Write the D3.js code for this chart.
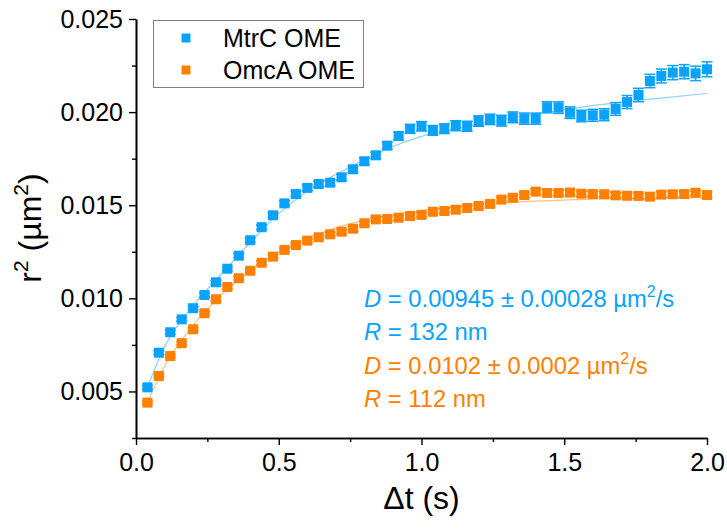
<!DOCTYPE html>
<html>
<head>
<meta charset="utf-8">
<script src="https://cdn.jsdelivr.net/npm/d3@7"></script>
<style>
  html, body { margin: 0; padding: 0; background: #fff; }
  svg { display: block; font-family: "Liberation Sans", Arial, sans-serif; }
</style>
</head>
<body>
<svg id="chart" width="727" height="529"></svg>
<script>
// Lag times (s)
const lagTimes = [0.04,0.08,0.12,0.16,0.20,0.24,0.28,0.32,0.36,0.40,
                  0.44,0.48,0.52,0.56,0.60,0.64,0.68,0.72,0.76,0.80,
                  0.84,0.88,0.92,0.96,1.00,1.04,1.08,1.12,1.16,1.20,
                  1.24,1.28,1.32,1.36,1.40,1.44,1.48,1.52,1.56,1.60,
                  1.64,1.68,1.72,1.76,1.80,1.84,1.88,1.92,1.96,2.00];

// Mean squared displacement, MtrC OME (µm²)
const mtrcMsd = [0.00522,0.00708,0.00818,0.00887,0.00947,0.01018,0.01086,0.01159,0.01229,0.01312,
                 0.01382,0.01446,0.01510,0.01560,0.01593,0.01614,0.01621,0.01650,0.01693,0.01736,
                 0.01768,0.01820,0.01872,0.01910,0.01924,0.01902,0.01911,0.01927,0.01924,0.01952,
                 0.01961,0.01954,0.01972,0.01965,0.01965,0.02026,0.02024,0.01997,0.01979,0.01983,
                 0.01986,0.02017,0.02054,0.02092,0.02167,0.02194,0.02212,0.02217,0.02208,0.02230];
const mtrcErr = [0.00010,0.00010,0.00010,0.00010,0.00010,0.00010,0.00010,0.00010,0.00010,0.00012,
                 0.00012,0.00012,0.00014,0.00014,0.00015,0.00015,0.00016,0.00016,0.00017,0.00018,
                 0.00018,0.00020,0.00022,0.00024,0.00025,0.00026,0.00026,0.00027,0.00027,0.00028,
                 0.00028,0.00029,0.00029,0.00030,0.00030,0.00030,0.00031,0.00031,0.00031,0.00032,
                 0.00032,0.00034,0.00035,0.00036,0.00036,0.00037,0.00038,0.00038,0.00039,0.00040];

// Mean squared displacement, OmcA OME (µm²)
const omcaMsd = [0.00440,0.00583,0.00690,0.00759,0.00834,0.00920,0.00995,0.01061,0.01108,0.01148,
                 0.01191,0.01224,0.01260,0.01286,0.01310,0.01328,0.01344,0.01358,0.01374,0.01403,
                 0.01424,0.01426,0.01433,0.01442,0.01448,0.01465,0.01469,0.01476,0.01485,0.01496,
                 0.01507,0.01530,0.01540,0.01555,0.01573,0.01566,0.01566,0.01568,0.01562,0.01560,
                 0.01559,0.01553,0.01551,0.01550,0.01546,0.01557,0.01559,0.01560,0.01567,0.01555];
const omcaErr = [0.00008,0.00008,0.00008,0.00008,0.00008,0.00008,0.00009,0.00009,0.00009,0.00009,
                 0.00010,0.00010,0.00010,0.00010,0.00010,0.00010,0.00010,0.00011,0.00011,0.00011,
                 0.00011,0.00011,0.00012,0.00012,0.00012,0.00012,0.00012,0.00012,0.00013,0.00013,
                 0.00013,0.00013,0.00013,0.00014,0.00014,0.00014,0.00014,0.00014,0.00014,0.00015,
                 0.00015,0.00015,0.00015,0.00015,0.00015,0.00016,0.00016,0.00016,0.00016,0.00016];

// Confined-diffusion fit curves
const fitTimes = [0.04,0.10,0.20,0.30,0.40,0.50,0.60,0.70,0.80,0.90,1.00,1.20,1.40,1.60,1.80,2.00];
const mtrcFit  = [0.00522,0.00740,0.00960,0.01132,0.01300,0.01455,0.01575,0.01665,0.01745,0.01815,
                  0.01870,0.01935,0.01990,0.02035,0.02070,0.02100];
const omcaFit  = [0.00440,0.00635,0.00855,0.01020,0.01150,0.01248,0.01322,0.01378,0.01420,0.01450,
                  0.01472,0.01503,0.01522,0.01533,0.01538,0.01541];

const seriesNames = ["MtrC OME", "OmcA OME"];
const seriesColors = ["#0aa2ff", "#ff8000"];
const fitColors = ["#8ad2ff", "#ffbf80"];

const xMajorTicks = [0, 0.5, 1.0, 1.5, 2.0];
const xMinorTicks = [0.25, 0.75, 1.25, 1.75];
const yMajorTicks = [0.005, 0.010, 0.015, 0.020, 0.025];
const yMinorTicks = [0.0025, 0.0075, 0.0125, 0.0175, 0.0225];

const fitLabels = [
  { sym: "D", text: " = 0.00945 ± 0.00028 µm", sup: "2", tail: "/s" },
  { sym: "R", text: " = 132 nm" },
  { sym: "D", text: " = 0.0102 ± 0.0002 µm", sup: "2", tail: "/s" },
  { sym: "R", text: " = 112 nm" }
];
const fitLabelSeries = [0, 0, 1, 1];

// ---- layout ----
const FONT = "'Liberation Sans', Arial, sans-serif";
const svg = d3.select("#chart");
const plot = { left: 136, top: 19, right: 707, bottom: 438 };

const x = d3.scaleLinear().domain([0, 2]).range([plot.left, plot.right]);
const y = d3.scaleLinear().domain([0.0025, 0.025]).range([plot.bottom, plot.top]);

// ---- axes ----
const xAxis = d3.axisBottom(x).tickValues(xMajorTicks).tickFormat(d3.format(".1f"))
  .tickSizeInner(7).tickSizeOuter(0).tickPadding(8);
const xAxisMinor = d3.axisBottom(x).tickValues(xMinorTicks).tickFormat("")
  .tickSizeInner(4).tickSizeOuter(0);
const yAxis = d3.axisLeft(y).tickValues(yMajorTicks).tickFormat(d3.format(".3f"))
  .tickSizeInner(7).tickSizeOuter(0).tickPadding(6);
const yAxisMinor = d3.axisLeft(y).tickValues(yMinorTicks).tickFormat("")
  .tickSizeInner(4).tickSizeOuter(0);

function styleAxis(g) {
  g.selectAll("path.domain").attr("stroke", "#000").attr("stroke-width", 1.6);
  g.selectAll(".tick line").attr("stroke", "#000").attr("stroke-width", 1.4);
  g.selectAll(".tick text").attr("fill", "#000").attr("font-size", 25)
    .attr("font-family", FONT);
}

svg.append("g").attr("transform", `translate(0,${plot.bottom})`).call(xAxisMinor).call(styleAxis);
svg.append("g").attr("transform", `translate(0,${plot.bottom})`).call(xAxis).call(styleAxis);
svg.append("g").attr("transform", `translate(${plot.left},0)`).call(yAxisMinor).call(styleAxis);
svg.append("g").attr("transform", `translate(${plot.left},0)`).call(yAxis).call(styleAxis);

// axis titles
const yTitle = svg.append("text")
  .attr("transform", `translate(41,228) rotate(-90)`)
  .attr("text-anchor", "middle")
  .attr("font-family", FONT)
  .attr("font-size", 32).attr("fill", "#000");
yTitle.append("tspan").text("r");
yTitle.append("tspan").attr("dy", -13).attr("font-size", 21).text("2");
yTitle.append("tspan").attr("dy", 13).text(" (µm");
yTitle.append("tspan").attr("dy", -13).attr("font-size", 21).text("2");
yTitle.append("tspan").attr("dy", 13).text(")");

svg.append("text")
  .attr("x", (plot.left + plot.right) / 2).attr("y", 509)
  .attr("text-anchor", "middle")
  .attr("font-family", FONT)
  .attr("font-size", 32).attr("fill", "#000")
  .text("Δt (s)");

// ---- fit curves ----
const fits = [mtrcFit, omcaFit];
fits.forEach((vals, i) => {
  const line = d3.line()
    .x((d, j) => x(fitTimes[j]))
    .y(d => y(d))
    .curve(d3.curveMonotoneX);
  svg.append("path")
    .datum(vals)
    .attr("d", line)
    .attr("fill", "none")
    .attr("stroke", fitColors[i])
    .attr("stroke-width", 1.2);
});

// ---- data with error bars ----
const series = [
  { values: mtrcMsd, errors: mtrcErr },
  { values: omcaMsd, errors: omcaErr }
];
const markerSize = 10;
const capHalf = 5.5;

series.forEach((s, i) => {
  const pts = lagTimes.map((t, j) => ({ t, v: s.values[j], e: s.errors[j] }));
  const g = svg.append("g");
  const eb = g.selectAll("g.err").data(pts).join("g").attr("class", "err")
    .attr("stroke", seriesColors[i]).attr("stroke-width", 1.5);
  eb.append("line")
    .attr("x1", d => x(d.t)).attr("x2", d => x(d.t))
    .attr("y1", d => y(d.v - d.e)).attr("y2", d => y(d.v + d.e));
  eb.append("line")
    .attr("x1", d => x(d.t) - capHalf).attr("x2", d => x(d.t) + capHalf)
    .attr("y1", d => y(d.v + d.e)).attr("y2", d => y(d.v + d.e));
  eb.append("line")
    .attr("x1", d => x(d.t) - capHalf).attr("x2", d => x(d.t) + capHalf)
    .attr("y1", d => y(d.v - d.e)).attr("y2", d => y(d.v - d.e));
  g.selectAll("rect").data(pts).join("rect")
    .attr("x", d => x(d.t) - markerSize / 2)
    .attr("y", d => y(d.v) - markerSize / 2)
    .attr("width", markerSize).attr("height", markerSize)
    .attr("fill", seriesColors[i]);
});

// ---- legend ----
const legend = svg.append("g");
legend.append("rect")
  .attr("x", 153.5).attr("y", 20.5).attr("width", 210).attr("height", 67)
  .attr("fill", "#fff").attr("stroke", "#808080").attr("stroke-width", 1);
seriesNames.forEach((name, i) => {
  const cy = 38 + i * 32;
  legend.append("rect")
    .attr("x", 186 - 4.5).attr("y", cy - 4.5)
    .attr("width", 9).attr("height", 9)
    .attr("fill", seriesColors[i]);
  legend.append("text")
    .attr("x", 223).attr("y", cy + 9)
    .attr("font-family", FONT)
    .attr("font-size", 25).attr("fill", "#000")
    .text(name);
});

// ---- fit parameter annotations ----
fitLabels.forEach((lab, i) => {
  const t = svg.append("text")
    .attr("x", 364).attr("y", 307 + i * 33.4)
    .attr("font-family", FONT)
    .attr("font-size", 23.8)
    .attr("fill", seriesColors[fitLabelSeries[i]]);
  t.append("tspan").attr("font-style", "italic").text(lab.sym);
  t.append("tspan").text(lab.text);
  if (lab.sup) {
    t.append("tspan").attr("dy", -10).attr("font-size", 16).text(lab.sup);
    t.append("tspan").attr("dy", 10).text(lab.tail);
  }
});
</script>
</body>
</html>
